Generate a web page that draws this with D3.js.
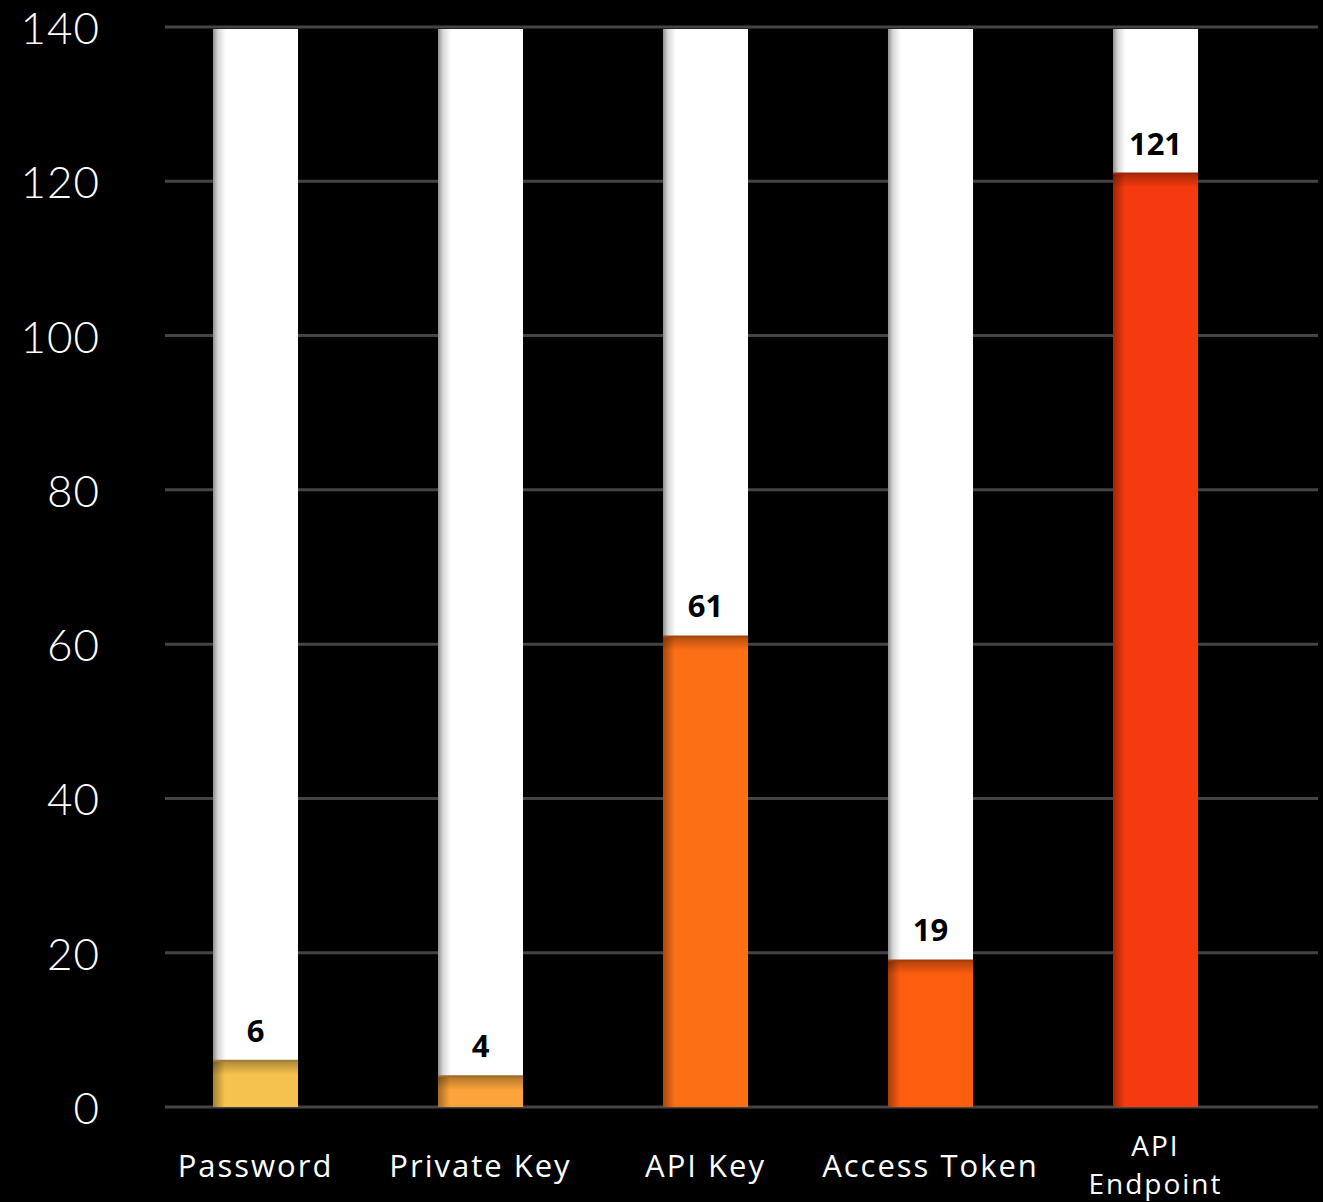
<!DOCTYPE html>
<html>
<head>
<meta charset="utf-8">
<script src="https://cdn.jsdelivr.net/npm/d3@7"></script>
<style>
  html, body { margin: 0; padding: 0; background: #000; }
  svg { display: block; }
</style>
</head>
<body>
<script>
const categories = ["Password", "Private Key", "API Key", "Access Token", "API Endpoint"];
const values = [6, 4, 61, 19, 121];
const barColors = ["#F6C24F", "#FBA43A", "#FD6F15", "#FD5D0F", "#F43A0E"];
const yTicks = [0, 20, 40, 60, 80, 100, 120, 140];
const yMax = 140;

const W = 1323, H = 1202;
const FONT = "'Open Sans', Lato, 'Noto Sans', sans-serif";
const TICK_FONT = "Lato, 'Open Sans', sans-serif";

const svg = d3.select("body").append("svg")
  .attr("width", W).attr("height", H)
  .style("background", "#000");

const defs = svg.append("defs");
const bgGrad = defs.append("linearGradient").attr("id", "bgGrad")
  .attr("x1", 0).attr("x2", 1).attr("y1", 0).attr("y2", 0);
bgGrad.append("stop").attr("offset", "0%").attr("stop-color", "#8f8f8f");
bgGrad.append("stop").attr("offset", "6%").attr("stop-color", "#d8d8d8");
bgGrad.append("stop").attr("offset", "15%").attr("stop-color", "#ffffff");
bgGrad.append("stop").attr("offset", "100%").attr("stop-color", "#ffffff");

const leftShade = defs.append("linearGradient").attr("id", "leftShade")
  .attr("x1", 0).attr("x2", 1).attr("y1", 0).attr("y2", 0);
leftShade.append("stop").attr("offset", "0%").attr("stop-color", "#000").attr("stop-opacity", 0.35);
leftShade.append("stop").attr("offset", "14%").attr("stop-color", "#000").attr("stop-opacity", 0);

const topShade = defs.append("linearGradient").attr("id", "topShade")
  .attr("x1", 0).attr("x2", 0).attr("y1", 0).attr("y2", 1);
topShade.append("stop").attr("offset", "0%").attr("stop-color", "#000").attr("stop-opacity", 0.3);
topShade.append("stop").attr("offset", "100%").attr("stop-color", "#000").attr("stop-opacity", 0);

const x = d3.scaleBand().domain(categories).range([143, 1268])
  .paddingInner(0.622).paddingOuter(0.311);
const y = d3.scaleLinear().domain([0, yMax]).range([1107, 27]);

// gridlines
svg.append("g").selectAll("line").data(yTicks).join("line")
  .attr("x1", 165).attr("x2", 1318)
  .attr("y1", d => y(d)).attr("y2", d => y(d))
  .attr("stroke", "#444").attr("stroke-width", 3);

// y tick labels
svg.append("g").selectAll("text").data(yTicks).join("text")
  .attr("x", 100).attr("y", d => y(d) + 17)
  .attr("text-anchor", "end")
  .attr("fill", "#fff")
  .attr("font-family", TICK_FONT)
  .attr("font-weight", 300)
  .attr("font-size", 44)
  .attr("letter-spacing", 1)
  .text(d => d);

const data = categories.map((c, i) => ({ c, v: values[i], color: barColors[i] }));

const bars = svg.append("g").selectAll("g").data(data).join("g");

// white background bars
bars.append("rect")
  .attr("x", d => x(d.c)).attr("width", x.bandwidth())
  .attr("y", y(yMax) + 2).attr("height", y(0) - y(yMax) - 2)
  .attr("fill", "url(#bgGrad)");

// colored fills
bars.append("rect")
  .attr("x", d => x(d.c)).attr("width", x.bandwidth())
  .attr("y", d => y(d.v)).attr("height", d => y(0) - y(d.v))
  .attr("fill", d => d.color);
bars.append("rect")
  .attr("x", d => x(d.c)).attr("width", x.bandwidth())
  .attr("y", d => y(d.v)).attr("height", d => y(0) - y(d.v))
  .attr("fill", "url(#leftShade)");
bars.append("rect")
  .attr("x", d => x(d.c)).attr("width", x.bandwidth())
  .attr("y", d => y(d.v)).attr("height", d => Math.min(14, y(0) - y(d.v)))
  .attr("fill", "url(#topShade)");
bars.append("line")
  .attr("x1", d => x(d.c)).attr("x2", d => x(d.c) + x.bandwidth())
  .attr("y1", d => y(d.v)).attr("y2", d => y(d.v))
  .attr("stroke", d => d3.color(d.color).darker(1.2))
  .attr("stroke-width", 2);

// value labels
bars.append("text")
  .attr("x", d => x(d.c) + x.bandwidth() / 2)
  .attr("y", d => y(d.v) - 19)
  .attr("text-anchor", "middle")
  .attr("fill", "#000")
  .attr("font-family", FONT)
  .attr("font-weight", 700)
  .attr("font-size", 31)
  .text(d => d.v);

// category labels
const catG = svg.append("g");
data.forEach(d => {
  const words = d.c === "API Endpoint" ? ["API", "Endpoint"] : [d.c];
  const cx = x(d.c) + x.bandwidth() / 2;
  if (words.length === 1) {
    catG.append("text")
      .attr("x", cx).attr("y", 1177)
      .attr("text-anchor", "middle")
      .attr("fill", "#fff")
      .attr("font-family", FONT)
      .attr("font-size", 31)
      .attr("letter-spacing", 2)
      .text(words[0]);
  } else {
    const t = catG.append("text")
      .attr("text-anchor", "middle")
      .attr("fill", "#fff")
      .attr("font-family", FONT)
      .attr("font-size", 28)
      .attr("letter-spacing", 2);
    t.append("tspan").attr("x", cx).attr("y", 1156).text(words[0]);
    t.append("tspan").attr("x", cx).attr("y", 1194).text(words[1]);
  }
});
</script>
</body>
</html>
